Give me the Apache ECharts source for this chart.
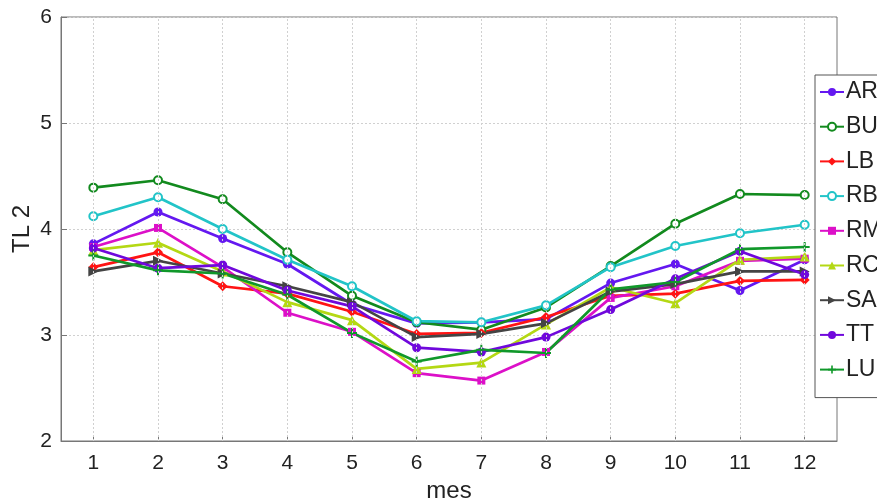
<!DOCTYPE html>
<html>
<head>
<meta charset="utf-8">
<script src="https://cdn.jsdelivr.net/npm/echarts@6/dist/echarts.min.js"></script>
<style>
html,body{margin:0;padding:0;background:#fff;}
#chart{width:877px;height:504px;}
</style>
</head>
<body>
<div id="chart"></div>
<script>
const months = [1,2,3,4,5,6,7,8,9,10,11,12];
const seriesNames = ['AR','BU','LB','RB','RM','RC','SA','TT','LU'];
const AR = [3.86, 4.16, 3.91, 3.67, 3.29, 3.11, 3.12, 3.15, 3.49, 3.67, 3.42, 3.71];
const BU = [4.39, 4.46, 4.28, 3.78, 3.37, 3.12, 3.05, 3.26, 3.65, 4.05, 4.33, 4.32];
const LB = [3.64, 3.78, 3.46, 3.39, 3.22, 3.01, 3.02, 3.17, 3.37, 3.39, 3.51, 3.52];
const RB = [4.12, 4.30, 4.00, 3.71, 3.46, 3.13, 3.12, 3.28, 3.64, 3.84, 3.96, 4.04];
const RM = [3.83, 4.01, 3.64, 3.21, 3.03, 2.64, 2.57, 2.84, 3.35, 3.46, 3.70, 3.72];
const RC = [3.80, 3.87, 3.60, 3.31, 3.14, 2.68, 2.74, 3.10, 3.45, 3.30, 3.71, 3.74];
const SA = [3.60, 3.70, 3.58, 3.46, 3.31, 2.98, 3.01, 3.11, 3.41, 3.48, 3.60, 3.60];
const TT = [3.82, 3.63, 3.66, 3.42, 3.27, 2.88, 2.84, 2.98, 3.24, 3.53, 3.79, 3.57];
const LU = [3.75, 3.61, 3.58, 3.38, 3.02, 2.75, 2.86, 2.83, 3.43, 3.50, 3.81, 3.83];
const yTicks = [2,3,4,5,6];

const values = {AR, BU, LB, RB, RM, RC, SA, TT, LU};
const plusPath = 'path://M4,0 L6,0 L6,4 L10,4 L10,6 L6,6 L6,10 L4,10 L4,6 L0,6 L0,4 L4,4 Z';
const styles = {
  AR: {color:'#6418f0', symbol:'circle', size:9},
  BU: {color:'#128a1e', symbol:'emptyCircle', size:8},
  LB: {color:'#ff1414', symbol:'diamond', size:10},
  RB: {color:'#22c4c8', symbol:'emptyCircle', size:8},
  RM: {color:'#dc10c8', symbol:'rect', size:8},
  RC: {color:'#b4d814', symbol:'triangle', size:10},
  SA: {color:'#444444', symbol:'triangle', size:10, rotate:-90},
  TT: {color:'#7008dc', symbol:'circle', size:9},
  LU: {color:'#10982a', symbol:plusPath, size:10}
};

const gridLineStyle = {color: '#d0d0d0', type: [2, 2], width: 1};

const series = [{
  name: '_grid',
  type: 'line',
  data: [],
  z: 1,
  silent: true,
  markLine: {
    silent: true,
    symbol: 'none',
    label: {show: false},
    lineStyle: gridLineStyle,
    emphasis: {disabled: true},
    animation: false,
    data: months.map(m => ({xAxis: m}))
  }
}].concat(seriesNames.map(n => ({
  name: n,
  type: 'line',
  data: months.map((m, i) => [m, values[n][i]]),
  symbol: styles[n].symbol,
  symbolSize: styles[n].size,
  symbolRotate: styles[n].rotate || 0,
  showAllSymbol: true,
  z: 3,
  lineStyle: {width: 2.7, color: styles[n].color},
  itemStyle: {color: styles[n].color, borderWidth: 2},
  emphasis: {disabled: true},
  animation: false
})));

const chart = echarts.init(document.getElementById('chart'), null, {renderer:'canvas'});
chart.setOption({
  backgroundColor: '#ffffff',
  animation: false,
  textStyle: {fontFamily: 'Liberation Sans, Arial, sans-serif'},
  grid: {left: 61, right: 40, top: 17, bottom: 63, outerBoundsMode: 'none', containLabel: false,
    show: true, borderColor: '#777', borderWidth: 1, backgroundColor: '#fff'},
  xAxis: {
    type: 'value', min: 0.5, max: 12.5,
    name: 'mes', nameLocation: 'middle', nameGap: 38, nameMoveOverlap: false,
    nameTextStyle: {fontSize: 24, color: '#222', fontFamily: 'Liberation Sans, Arial, sans-serif'},
    axisLine: {show: true, lineStyle: {color: '#777', width: 1}},
    axisTick: {show: true, inside: true, length: 6, lineStyle: {color: '#777'}, customValues: months},
    axisLabel: {fontSize: 21, color: '#222', margin: 12, customValues: months},
    splitLine: {show: false}
  },
  yAxis: {
    type: 'value', min: yTicks[0], max: yTicks[yTicks.length-1], interval: 1,
    name: 'TL 2', nameLocation: 'middle', nameGap: 27, nameMoveOverlap: false,
    nameTextStyle: {fontSize: 24, color: '#222', fontFamily: 'Liberation Sans, Arial, sans-serif'},
    axisLine: {show: true, lineStyle: {color: '#777', width: 1}},
    axisTick: {show: true, inside: true, length: 6, lineStyle: {color: '#777'}},
    axisLabel: {fontSize: 21, color: '#222', margin: 9},
    splitLine: {show: true, lineStyle: gridLineStyle}
  },
  legend: {
    data: seriesNames,
    orient: 'vertical',
    left: 815, top: 75,
    itemWidth: 24, itemHeight: 10,
    itemGap: 10.7,
    padding: [5, 6, 16, 4],
    backgroundColor: '#fff',
    borderColor: '#555', borderWidth: 1,
    textStyle: {fontSize: 23, color: '#222', lineHeight: 24, padding: [0, 0, 0, -3]},
    selectedMode: false
  },
  series: series
});
</script>
</body>
</html>
